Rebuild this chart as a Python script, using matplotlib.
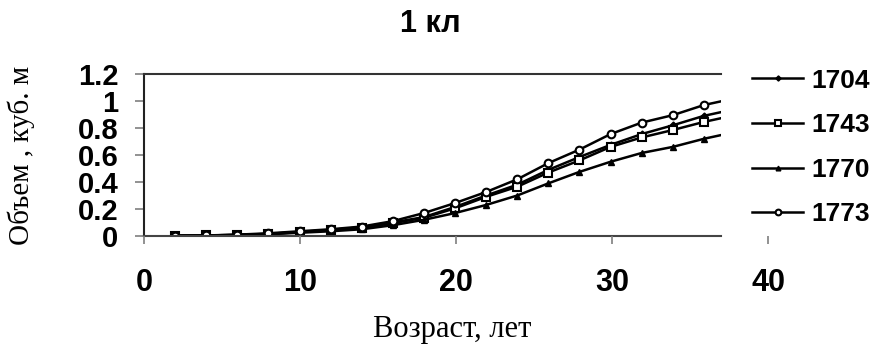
import matplotlib
matplotlib.use("Agg")
import matplotlib.pyplot as plt

ages = [2, 4, 6, 8, 10, 12, 14, 16, 18, 20, 22, 24, 26, 28, 30, 32, 34, 36, 38]
v1704 = [0.002, 0.004, 0.008, 0.016, 0.03, 0.045, 0.065, 0.10, 0.14, 0.215, 0.30, 0.38, 0.49, 0.585, 0.675, 0.755, 0.82, 0.89, 0.94]
v1743 = [0.002, 0.004, 0.008, 0.015, 0.028, 0.043, 0.06, 0.095, 0.135, 0.205, 0.29, 0.365, 0.47, 0.56, 0.66, 0.73, 0.785, 0.845, 0.895]
v1770 = [0.002, 0.003, 0.007, 0.013, 0.024, 0.035, 0.05, 0.08, 0.12, 0.17, 0.23, 0.30, 0.39, 0.475, 0.55, 0.615, 0.66, 0.72, 0.77]
v1773 = [0.002, 0.004, 0.01, 0.02, 0.035, 0.05, 0.07, 0.11, 0.17, 0.244, 0.326, 0.42, 0.54, 0.64, 0.755, 0.84, 0.895, 0.97, 1.02]
series_names = ["1704", "1743", "1770", "1773"]
xticks = [0, 10, 20, 30, 40]
yticks = [0, 0.2, 0.4, 0.6, 0.8, 1.0, 1.2]
ytick_labels = ["0", "0.2", "0.4", "0.6", "0.8", "1", "1.2"]

W, H = 875, 353
fig = plt.figure(figsize=(W / 100, H / 100), dpi=100)

def fx(px):
    return px / W

def fy(py):
    return 1 - py / H

left, right, top, bottom = 144, 721, 74, 236
ax = fig.add_axes([fx(left), fy(bottom), fx(right) - fx(left), fy(top) - fy(bottom)])
ax.set_xlim(0, 37.1)
ax.set_ylim(0, 1.2)

styles = [
    dict(marker="D", ms=3.5, mfc="black", mec="black", mew=1.0),
    dict(marker="s", ms=5.5, mfc="white", mec="black", mew=1.5),
    dict(marker="^", ms=4.5, mfc="black", mec="black", mew=1.0),
    dict(marker="o", ms=5.5, mfc="white", mec="black", mew=1.5),
]
handles = []
for vals, name, st in zip([v1704, v1743, v1770, v1773], series_names, styles):
    h, = ax.plot(ages, vals, color="black", lw=1.8, label=name, **st)
    handles.append(h)

tick_col = "#7f7f7f"
ax.spines["right"].set_visible(False)
ax.spines["top"].set_color("#333333")
ax.spines["left"].set_color("#222222")
ax.spines["bottom"].set_color("#444444")
for s in ["top", "left", "bottom"]:
    ax.spines[s].set_linewidth(1.5)
ax.set_xticks([])
ax.set_yticks(yticks)
ax.set_yticklabels(ytick_labels)
ax.tick_params(axis="y", direction="out", length=6.5, width=1.2, color=tick_col,
               pad=12, labelsize=21)
for lab in ax.get_yticklabels():
    lab.set_fontweight("bold")
    lab.set_fontfamily("Liberation Sans")

# x tick axis (extends to 40, beyond clipped plot area)
ax2 = fig.add_axes([fx(left), fy(bottom), fx(768) - fx(left), fy(top) - fy(bottom)])
ax2.patch.set_visible(False)
for s in ax2.spines.values():
    s.set_visible(False)
ax2.set_xlim(0, 40)
ax2.set_ylim(0, 1.2)
ax2.set_yticks([])
ax2.set_xticks(xticks)
ax2.set_xticklabels([str(t) for t in xticks])
ax2.tick_params(axis="x", direction="out", length=6, width=1.2, color=tick_col,
                pad=17, labelsize=22)
for lab in ax2.get_xticklabels():
    lab.set_fontweight("bold")
    lab.set_fontfamily("Liberation Sans")

fig.text(fx(430), fy(24), "1 кл", ha="center", va="center", fontsize=22,
         fontweight="bold", family="Liberation Sans")
fig.text(fx(452), fy(329), "Возраст, лет", ha="center", va="center", fontsize=22,
         family="Liberation Serif")
fig.text(fx(21), fy(155), "Объем , куб. м", ha="center", va="center", fontsize=21,
         rotation=90, family="Liberation Serif")

leg = fig.legend(handles, series_names, loc="center left",
                 bbox_to_anchor=(fx(752), fy(147.5)), frameon=False,
                 prop=dict(family="Liberation Sans", weight="bold", size=19),
                 handlelength=1.95, handletextpad=0.3, labelspacing=0.78,
                 borderpad=0, borderaxespad=0, markerscale=0.75)

fig.savefig("out.png", dpi=100)
